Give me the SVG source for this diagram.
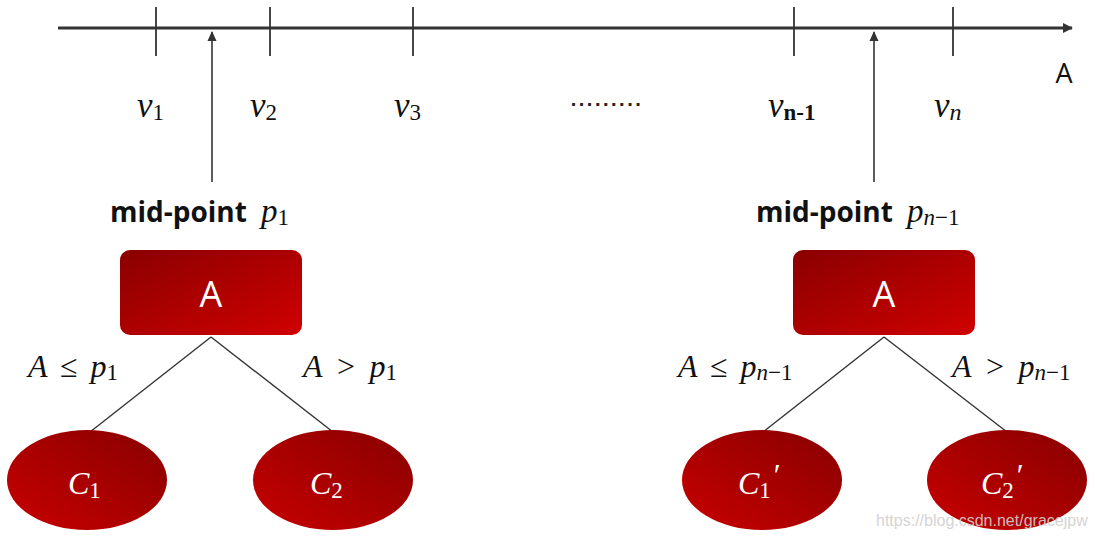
<svg xmlns="http://www.w3.org/2000/svg" width="1096" height="538" viewBox="0 0 1096 538">
<style>
.axis{stroke:#333;stroke-width:3;fill:none}
.tick{stroke:#333;stroke-width:1.8}
.ptr{stroke:#333;stroke-width:1.6}
.edge{stroke:#333;stroke-width:1.4;fill:none}
.math{font-family:"Liberation Serif","DejaVu Serif",serif;font-style:italic;fill:#111}
.sub{font-family:"Liberation Serif","DejaVu Serif",serif;font-style:normal}
.bold{font-family:"Open Sans","Noto Sans",sans-serif;font-weight:bold;fill:#111}
.white{fill:#fff}
.boxlbl{font-family:"Open Sans","Noto Sans",sans-serif;font-size:36px;fill:#fff;text-anchor:middle}
.elbl{font-size:32px;word-spacing:5px}
</style>
<defs>
<linearGradient id="red" x1="0" y1="0" x2="1" y2="1">
<stop offset="0" stop-color="#8a0000"/>
<stop offset="1" stop-color="#d00000"/>
</linearGradient>
<linearGradient id="redE" x1="0" y1="1" x2="1" y2="0">
<stop offset="0" stop-color="#c80000"/>
<stop offset="1" stop-color="#880000"/>
</linearGradient>
<marker id="axArrow" markerWidth="10" markerHeight="10" refX="9" refY="5" orient="auto" markerUnits="userSpaceOnUse" viewBox="0 0 10 10">
<path d="M0,0 L10,5 L0,10 Z" fill="#333"/>
</marker>
<marker id="upArrow" markerWidth="10" markerHeight="10" refX="9" refY="5" orient="auto" markerUnits="userSpaceOnUse" viewBox="0 0 10 10">
<path d="M0,0.5 L10,5 L0,9.5 Z" fill="#333"/>
</marker>
</defs>

<g id="connectors">
<line class="axis" x1="58" y1="28" x2="1072" y2="28" marker-end="url(#axArrow)"/>
<line class="tick" x1="156" y1="7" x2="156" y2="56"/>
<line class="tick" x1="270" y1="7" x2="270" y2="56"/>
<line class="tick" x1="413" y1="7" x2="413" y2="56"/>
<line class="tick" x1="794" y1="7" x2="794" y2="56"/>
<line class="tick" x1="953" y1="7" x2="953" y2="56"/>
<line class="ptr" x1="212" y1="182" x2="212" y2="32" marker-end="url(#upArrow)"/>
<line class="ptr" x1="874" y1="182" x2="874" y2="32" marker-end="url(#upArrow)"/>
<line class="edge" x1="211" y1="337" x2="90" y2="432"/>
<line class="edge" x1="211" y1="337" x2="333" y2="432"/>
<line class="edge" x1="884" y1="337" x2="763" y2="432"/>
<line class="edge" x1="884" y1="337" x2="1007" y2="432"/>
</g>

<g id="axis-labels">
<text x="1064" y="83" font-size="27" text-anchor="middle" font-family="Open Sans,Noto Sans,sans-serif" fill="#111">A</text>
<text class="math" x="137" y="117" font-size="35">v<tspan class="sub" font-size="23" dy="3">1</tspan></text>
<text class="math" x="250" y="117" font-size="35">v<tspan class="sub" font-size="23" dy="3">2</tspan></text>
<text class="math" x="394" y="117" font-size="35">v<tspan class="sub" font-size="23" dy="3">3</tspan></text>
<text x="607" y="106" font-size="20" text-anchor="middle" font-family="Liberation Sans,sans-serif" font-weight="bold" fill="#222" letter-spacing="2.5">.........</text>
<text class="math" x="768" y="117" font-size="35">v<tspan class="sub" font-size="23" dy="3" font-weight="bold">n-1</tspan></text>
<text class="math" x="934" y="117" font-size="35">v<tspan font-size="24" dy="3">n</tspan></text>
</g>

<g id="midpoint-1">
<text class="bold" x="110" y="222" font-size="28">mid-point<tspan class="math" font-weight="normal" font-size="33" dx="14">p</tspan><tspan class="sub" font-weight="normal" font-size="23" dy="3">1</tspan></text>
</g>
<g id="midpoint-n1">
<text class="bold" x="756" y="222" font-size="28">mid-point<tspan class="math" font-weight="normal" font-size="33" dx="14">p</tspan><tspan class="math" font-weight="normal" font-size="23" dy="3">n</tspan><tspan class="sub" font-weight="normal" font-size="23">−1</tspan></text>
</g>

<g id="node-A1">
<rect x="120" y="250" width="182" height="85" rx="10" fill="url(#red)"/>
<text class="boxlbl" x="211" y="307">A</text>
</g>
<g id="node-A2">
<rect x="793" y="250" width="182" height="85" rx="10" fill="url(#red)"/>
<text class="boxlbl" x="884" y="307">A</text>
</g>

<g id="edge-labels">
<text class="math elbl" x="28" y="377">A ≤ p<tspan class="sub" font-size="23" dy="3">1</tspan></text>
<text class="math elbl" x="303" y="377">A &gt; p<tspan class="sub" font-size="23" dy="3">1</tspan></text>
<text class="math elbl" x="678" y="377">A ≤ p<tspan font-size="23" dy="3">n</tspan><tspan class="sub" font-size="23">−1</tspan></text>
<text class="math elbl" x="952" y="377">A &gt; p<tspan font-size="23" dy="3">n</tspan><tspan class="sub" font-size="23">−1</tspan></text>
</g>

<g id="node-C1">
<ellipse cx="87" cy="480" rx="80" ry="50" fill="url(#redE)"/>
<text class="math white" x="68" y="494" font-size="32" fill="#fff">C<tspan class="sub" font-size="23" dy="4">1</tspan></text>
</g>
<g id="node-C2">
<ellipse cx="333" cy="480" rx="80" ry="50" fill="url(#redE)"/>
<text class="math white" x="310" y="494" font-size="32" fill="#fff">C<tspan class="sub" font-size="23" dy="4">2</tspan></text>
</g>
<g id="node-C1p">
<ellipse cx="762" cy="480" rx="80" ry="50" fill="url(#redE)"/>
<text class="math white" x="738" y="494" font-size="32" fill="#fff">C<tspan class="sub" font-size="23" dy="4">1</tspan><tspan dy="-12" font-size="32" dx="1">′</tspan></text>
</g>
<g id="node-C2p">
<ellipse cx="1007" cy="480" rx="80" ry="50" fill="url(#redE)"/>
<text class="math white" x="981" y="494" font-size="32" fill="#fff">C<tspan class="sub" font-size="23" dy="4">2</tspan><tspan dy="-12" font-size="32" dx="1">′</tspan></text>
</g>

<text x="876" y="526" font-size="16" font-family="Liberation Sans,sans-serif" fill="#d0d0d0" opacity="0.9">https://blog.csdn.net/gracejpw</text>
</svg>
